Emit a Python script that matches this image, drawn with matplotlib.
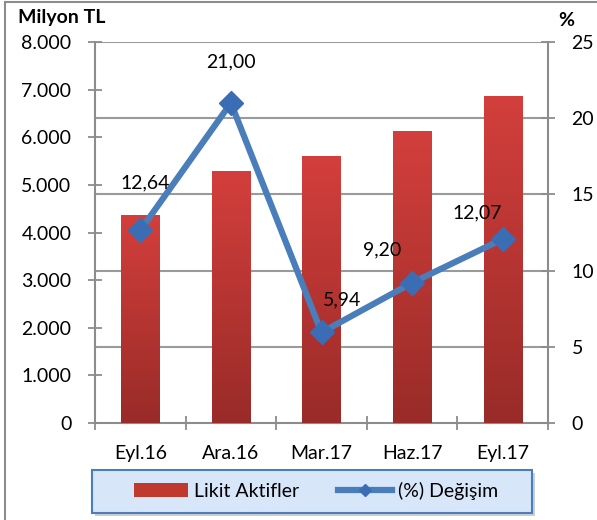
import numpy as np
import matplotlib
matplotlib.use('Agg')
import matplotlib.pyplot as plt
from matplotlib.patches import Rectangle, FancyBboxPatch
from matplotlib.colors import LinearSegmentedColormap

plt.rcParams['font.family'] = ['Lato', 'DejaVu Sans']
plt.rcParams['font.size'] = 14

# veriler
donemler = ['Eyl.16', 'Ara.16', 'Mar.17', 'Haz.17', 'Eyl.17']
likit_aktifler = [4370, 5290, 5610, 6130, 6870]
degisim = [12.64, 21.00, 5.94, 9.20, 12.07]
degisim_etiket = ['12,64', '21,00', '5,94', '9,20', '12,07']
sol_ticks = [0, 1000, 2000, 3000, 4000, 5000, 6000, 7000, 8000]
sol_labels = ['0', '1.000', '2.000', '3.000', '4.000', '5.000', '6.000', '7.000', '8.000']
sag_ticks = [0, 5, 10, 15, 20, 25]

fig = plt.figure(figsize=(5.97, 5.20), dpi=100)
# dis cerceve
fig.patches.append(Rectangle((0.008, -0.01), 1.2, 1.006, transform=fig.transFigure,
                             fill=False, edgecolor='#8c8c8c', lw=1.5))

pos = [95 / 597, 1 - 423 / 520, 453 / 597, 381 / 520]

# grid cizgileri en arkada
grid_ax = fig.add_axes(pos, zorder=0)
grid_ax.set_xlim(0, 1)
grid_ax.set_ylim(0, 25)
grid_ax.axis('off')
for t in sag_ticks[1:]:
    grid_ax.axhline(t, color='#9a9a9a', lw=1.5)

ax = fig.add_axes(pos, zorder=1)
ax.patch.set_visible(False)
ax2 = ax.twinx()
ax2.set_zorder(2)
ax2.patch.set_visible(False)

x = np.arange(len(donemler))
bars = ax.bar(x, likit_aktifler, width=0.42, color='#c0392f', zorder=3)

# cubuklarda dikey renk gecisi
grad = np.linspace(0, 1, 256).reshape(-1, 1)
cmap = LinearSegmentedColormap.from_list('kirmizi', ['#992b28', '#d33f3c'])
for b in bars:
    bx, by = b.get_x(), b.get_y()
    im = ax.imshow(grad, cmap=cmap, origin='lower', aspect='auto',
                   extent=[bx, bx + b.get_width(), by, by + b.get_height()], zorder=3)
    im.set_clip_path(b)

ax.set_xlim(-0.5, len(donemler) - 0.5)
ax.set_ylim(0, 8000)
ax.set_yticks(sol_ticks)
ax.set_yticklabels(sol_labels)
ax.set_xticks(x)
ax.set_xticklabels(donemler)
ax.set_xticks(np.arange(-0.5, len(donemler)), minor=True)
ax.tick_params(axis='x', which='major', length=0, pad=16)
ax.tick_params(axis='x', which='minor', direction='inout', length=10, color='#8c8c8c', width=1.3)
ax.tick_params(axis='y', direction='inout', length=10, color='#8c8c8c', width=1.3, pad=12)

ax2.set_ylim(0, 25)
ax2.set_yticks(sag_ticks)
ax2.tick_params(axis='y', direction='inout', length=10, color='#8c8c8c', width=1.3, pad=12)

for a in (ax, ax2):
    for s in a.spines.values():
        s.set_visible(False)
for s in ('left', 'bottom'):
    ax.spines[s].set_visible(True)
    ax.spines[s].set_color('#8c8c8c')
    ax.spines[s].set_linewidth(1.5)
ax2.spines['right'].set_visible(True)
ax2.spines['right'].set_color('#8c8c8c')
ax2.spines['right'].set_linewidth(1.5)

line, = ax2.plot(x, degisim, color='#4a7ebb', lw=4.5, marker='D', markersize=12,
                 markerfacecolor='#3a6db3', markeredgecolor='#3a6db3', zorder=5)

# etiket kaydirmalari (piksel)
offsets = [(5, 47), (0, 41), (21, 33), (-30, 33), (-25, 26)]
for xi, yi, lab, off in zip(x, degisim, degisim_etiket, offsets):
    ax2.annotate(lab, (xi, yi), xytext=off, textcoords='offset pixels',
                 ha='center', va='center', fontsize=14, zorder=6)

fig.text(18 / 597, 1 - 18 / 520, 'Milyon TL', fontweight='bold', fontsize=14, va='center')
fig.text(566 / 597, 1 - 20 / 520, '%', fontweight='bold', fontsize=14, va='center', ha='center')

# lejant kutusu
fig.patches.append(FancyBboxPatch((95 / 597, 1 - 516 / 520), 440 / 597, 43 / 520,
                                  boxstyle='square,pad=0', transform=fig.transFigure,
                                  facecolor='#a0a0a0', edgecolor='none', alpha=0.5))
fig.patches.append(FancyBboxPatch((92 / 597, 1 - 513 / 520), 440 / 597, 43 / 520,
                                  boxstyle='square,pad=0', transform=fig.transFigure,
                                  facecolor='#d8e6fa', edgecolor='#4a7ebb', lw=1.5))

leg = fig.legend([bars, line], ['Likit Aktifler', '(%) Değişim'],
                 loc='center', bbox_to_anchor=(316 / 597, 1 - 491 / 520),
                 ncol=2, frameon=False, fontsize=14, markerscale=0.5,
                 handlelength=2.8, handletextpad=0.3, columnspacing=2.0)

plt.savefig('out.png', dpi=100)
